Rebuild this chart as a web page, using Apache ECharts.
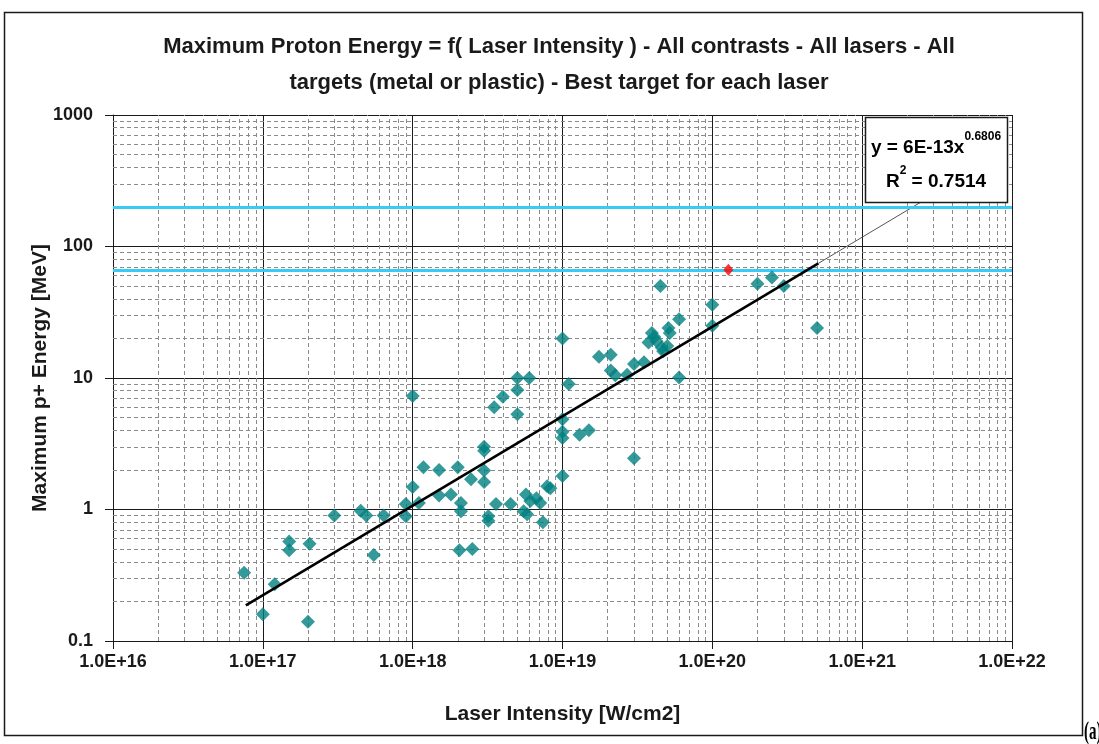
<!DOCTYPE html>
<html>
<head>
<meta charset="utf-8">
<script src="https://cdn.jsdelivr.net/npm/echarts@6/dist/echarts.min.js"></script>
<style>
  html, body { margin: 0; padding: 0; background: #fff; }
  #chart { width: 1099px; height: 744px; }
</style>
</head>
<body>
<div id="chart"></div>
<script>
// Laser intensity [W/cm2] and maximum proton energy [MeV], one entry per shot series
const intensity = [
  7.5e16, 1.0e17, 1.2e17, 1.5e17, 1.5e17, 2.0e17, 2.05e17, 3.0e17, 4.5e17, 4.9e17,
  5.5e17, 6.4e17, 9.0e17, 9.0e17, 1.1e18, 1.0e18, 1.0e18, 1.18e18, 1.5e18, 2.0e18,
  1.5e18, 1.8e18, 2.1e18, 2.1e18, 2.45e18, 3.0e18, 3.0e18, 3.0e18, 3.0e18, 3.5e18,
  4.0e18, 5.0e18, 5.0e18, 5.0e18, 6.0e18, 3.6e18, 4.5e18, 3.2e18, 3.2e18, 5.7e18,
  6.1e18, 6.7e18, 7.1e18, 5.5e18, 5.8e18, 7.9e18, 8.3e18, 7.4e18, 1.0e19, 1.0e19,
  1.0e19, 1.0e19, 1.0e19, 1.1e19, 1.3e19, 1.5e19, 3.0e19, 1.75e19, 2.1e19, 2.1e19,
  2.25e19, 2.7e19, 3.0e19, 3.5e19, 6.0e19, 4.5e19, 6.0e19, 3.95e19, 3.75e19, 4.25e19,
  4.6e19, 5.0e19, 5.1e19, 5.2e19, 4.7e19, 4.1e19, 1.0e20, 1.0e20, 2.0e20, 2.5e20,
  3.0e20, 5.0e20, 2.05e18, 2.5e18
];
const energy = [
  0.33, 0.16, 0.27, 0.57, 0.49, 0.14, 0.55, 0.9, 0.98, 0.9,
  0.45, 0.9, 1.1, 0.89, 1.12, 1.48, 7.3, 2.1, 2.0, 2.1,
  1.28, 1.3, 1.12, 0.97, 1.7, 3.0, 2.8, 1.98, 1.62, 6.0,
  7.2, 8.1, 10.0, 5.3, 10.0, 1.1, 1.1, 0.89, 0.82, 1.3,
  1.16, 1.22, 1.12, 0.97, 0.92, 1.5, 1.45, 0.8, 4.85, 3.9,
  3.5, 1.8, 20, 9.0, 3.7, 4.0, 2.45, 14.5, 15, 11.4,
  10.5, 10.6, 12.8, 13.2, 10.1, 50, 28, 22, 18.6, 19,
  17, 17.5, 24, 22, 16, 20.5, 36, 25, 52, 58,
  50, 24, 0.49, 0.5
];

// Highlighted shot
const highlightIntensity = [1.28e20];
const highlightEnergy = [66.5];

// Reference energy levels [MeV]
const referenceLevels = [200, 66];

// Power-law fit  E = a * I^b
const fitCoef = 6e-13;
const fitExp = 0.6806;
const fitR2 = 0.7514;
const fitRange = [7.7e16, 5.1e20];
const fitExtension = [5.1e20, 2.6e21];

// Axis decades
const xDecades = [16, 17, 18, 19, 20, 21, 22];
const yDecades = [-1, 0, 1, 2, 3];

const titleLines = [
  'Maximum Proton Energy = f( Laser Intensity ) - All contrasts - All lasers - All',
  'targets (metal or plastic) - Best target for each laser'
];

const FONT = '"Liberation Sans", Arial, sans-serif';
const INK = '#1a1a1a';

const fit = x => fitCoef * Math.pow(x, fitExp);

// minor grid values 2..9 in every decade
function minorValues(decades) {
  const out = [];
  for (let i = 0; i < decades.length - 1; i++) {
    for (let m = 2; m <= 9; m++) out.push(m * Math.pow(10, decades[i]));
  }
  return out;
}

const scatterData = intensity.map((x, i) => [x, energy[i]]);
const highlightData = highlightIntensity.map((x, i) => [x, highlightEnergy[i]]);

const minorStyle = { color: '#8a8a8a', width: 1, type: [4, 3] };
const coefText = fitCoef.toExponential(0).toUpperCase();

const chart = echarts.init(document.getElementById('chart'));
chart.setOption({
  animation: false,
  backgroundColor: '#fff',
  title: {
    text: titleLines.join('\n'),
    left: 554,
    top: 24,
    textAlign: 'center',
    textStyle: { fontFamily: FONT, fontWeight: 'bold', fontSize: 22, lineHeight: 36, color: INK }
  },
  grid: { left: 113, right: 87, top: 115, bottom: 103, containLabel: false },
  xAxis: {
    type: 'log',
    logBase: 10,
    min: Math.pow(10, xDecades[0]),
    max: Math.pow(10, xDecades[xDecades.length - 1]),
    name: 'Laser Intensity [W/cm2]',
    nameLocation: 'middle',
    nameGap: 63,
    nameMoveOverlap: false,
    nameTextStyle: { fontFamily: FONT, fontWeight: 'bold', fontSize: 21, color: INK },
    axisLine: { show: true, lineStyle: { color: INK, width: 1 } },
    axisTick: { show: true, length: 8, inside: false, lineStyle: { color: INK } },
    axisLabel: {
      margin: 12,
      fontFamily: FONT, fontWeight: 'bold', fontSize: 18, color: INK,
      formatter: v => '1.0E+' + Math.round(Math.log10(v))
    },
    splitLine: { show: true, lineStyle: { color: INK, width: 1 } },
    minorTick: { show: false },
    minorSplitLine: { show: false }
  },
  yAxis: {
    type: 'log',
    logBase: 10,
    min: Math.pow(10, yDecades[0]),
    max: Math.pow(10, yDecades[yDecades.length - 1]),
    name: 'Maximum p+ Energy [MeV]',
    nameLocation: 'middle',
    nameGap: 62,
    nameRotate: 90,
    nameMoveOverlap: false,
    nameTextStyle: { fontFamily: FONT, fontWeight: 'bold', fontSize: 21, color: INK },
    axisLine: { show: true, lineStyle: { color: INK, width: 1 } },
    axisTick: { show: true, length: 8, inside: false, lineStyle: { color: INK } },
    axisLabel: {
      margin: 20,
      fontFamily: FONT, fontWeight: 'bold', fontSize: 18, color: INK,
      formatter: v => String(Number(v.toPrecision(3)))
    },
    splitLine: { show: true, lineStyle: { color: INK, width: 1 } }
  },
  series: [
    {
      // dashed minor grid
      type: 'line',
      data: [],
      silent: true,
      z: 1,
      markLine: {
        silent: true,
        symbol: 'none',
        animation: false,
        label: { show: false },
        lineStyle: minorStyle,
        emphasis: { disabled: true },
        data: minorValues(xDecades).map(v => ({ xAxis: v }))
          .concat(minorValues(yDecades).map(v => ({ yAxis: v })))
      }
    },
    {
      // reference energy levels
      type: 'line',
      data: [],
      silent: true,
      z: 2,
      markLine: {
        silent: true,
        symbol: 'none',
        animation: false,
        label: { show: false },
        lineStyle: { color: '#38CCF5', width: 3, type: 'solid' },
        emphasis: { disabled: true },
        data: referenceLevels.map(v => ({ yAxis: v }))
      }
    },
    {
      name: 'fit-extension',
      type: 'line',
      data: fitExtension.map(x => [x, fit(x)]),
      symbol: 'none',
      silent: true,
      z: 3,
      lineStyle: { color: '#555', width: 1 }
    },
    {
      name: 'fit',
      type: 'line',
      data: fitRange.map(x => [x, fit(x)]),
      symbol: 'none',
      silent: true,
      z: 6,
      lineStyle: { color: '#000', width: 2.6 }
    },
    {
      name: 'shots',
      type: 'scatter',
      data: scatterData,
      symbol: 'diamond',
      symbolSize: 14,
      z: 5,
      itemStyle: { color: '#008080' }
    },
    {
      name: 'highlight',
      type: 'scatter',
      data: highlightData,
      symbol: 'diamond',
      symbolSize: [10, 12],
      z: 7,
      itemStyle: { color: '#FF0000' }
    }
  ],
  graphic: [
    {
      type: 'rect',
      shape: { x: 4.5, y: 12.5, width: 1078, height: 723 },
      style: { fill: 'none', stroke: INK, lineWidth: 1.5 },
      silent: true,
      z: 100
    },
    {
      type: 'rect',
      shape: { x: 865.5, y: 117.5, width: 142, height: 85 },
      style: { fill: '#fff', stroke: INK, lineWidth: 1.5 },
      silent: true,
      z: 100
    },
    {
      type: 'text',
      x: 936, y: 165,
      silent: true,
      z: 101,
      style: {
        text: '{b|y = ' + coefText + 'x}{s|' + fitExp + '}\n{b|R}{s|2}{b| = ' + fitR2 + '}',
        align: 'center',
        verticalAlign: 'middle',
        rich: {
          b: { fontFamily: FONT, fontWeight: 'bold', fontSize: 19, lineHeight: 34, color: INK },
          s: { fontFamily: FONT, fontWeight: 'bold', fontSize: 12, lineHeight: 20, color: INK, verticalAlign: 'top' }
        }
      }
    },
    {
      type: 'text',
      x: 1084, y: 732,
      scaleX: 0.58,
      silent: true,
      z: 100,
      style: {
        text: '(a)',
        fontFamily: '"Liberation Serif", serif',
        fontWeight: 'bold',
        fontSize: 26,
        fill: '#000',
        align: 'left',
        verticalAlign: 'middle'
      }
    }
  ]
});
</script>
</body>
</html>
